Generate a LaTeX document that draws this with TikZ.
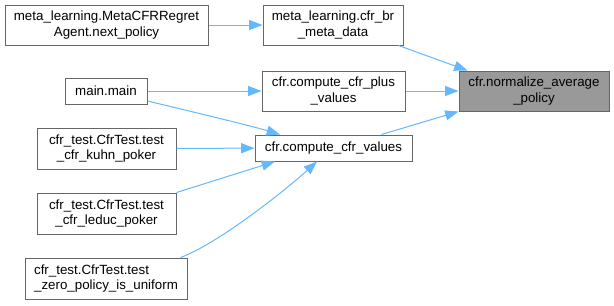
\documentclass[tikz,border=0pt]{standalone}
\usepackage{fontspec}
\setmainfont{Liberation Sans}
\usetikzlibrary{arrows.meta,calc}
\definecolor{edgeblue}{HTML}{63B8FF}
\definecolor{boxgray}{HTML}{666666}
\definecolor{hlgray}{HTML}{999999}

\begin{document}
\begin{tikzpicture}[x=0.75pt,y=-0.75pt,
  fn/.style={draw=boxgray,line width=0.75pt,fill=white,inner sep=0pt,align=center,
    font=\fontsize{10}{11.5}\selectfont},
  edge/.style={draw=edgeblue,line width=0.75pt,-{Triangle[length=10pt,width=7.5pt]}}]
\useasboundingbox (0,0) rectangle (614,305);

% 被调用的函数
\node (norm) at (534,91) [fn,fill=hlgray,minimum width=112.5pt,minimum height=30pt]{cfr.normalize\_average\\\_policy};

% 第二列
\node (brmeta) at (333,25) [fn,minimum width=105pt,minimum height=30pt]{meta\_learning.cfr\_br\\\_meta\_data};
\node (plus) at (333.5,91) [fn,minimum width=107.25pt,minimum height=30pt]{cfr.compute\_cfr\_plus\\\_values};
\node (values) at (333.5,148) [fn,minimum width=117.75pt,minimum height=19.5pt]{cfr.compute\_cfr\_values};

% 第一列
\node (meta) at (106.5,25) [fn,minimum width=152.25pt,minimum height=30pt]{meta\_learning.MetaCFRRegret\\Agent.next\_policy};
\node (mainmain) at (106,91) [fn,minimum width=61.5pt,minimum height=19.5pt]{main.main};
\node (kuhn) at (106.5,148.5) [fn,minimum width=104.25pt,minimum height=30.75pt]{cfr\_test.CfrTest.test\\\_cfr\_kuhn\_poker};
\node (leduc) at (106.5,213.5) [fn,minimum width=104.25pt,minimum height=30.75pt]{cfr\_test.CfrTest.test\\\_cfr\_leduc\_poker};
\node (zero) at (106,278.5) [fn,align=left,minimum width=121.5pt,minimum height=30.75pt]{cfr\_test.CfrTest.test\\\_zero\_policy\_is\_uniform};

% 调用关系
\draw[edge] (meta) -- (brmeta);
\draw[edge] ($(brmeta.south east)+(-5,0)$) -- ($(norm.north west)+(9,0)$);
\draw[edge] (plus) -- (norm);
\draw[edge] ($(values.north)+(48,0)$) -- (norm.south west);
\draw[edge] (mainmain) -- (plus);
\draw[edge] ($(mainmain.east)+(0,10)$) .. controls (187,110.5) and (250,125.5) .. ($(values.north)+(-53.5,0)$);
\draw[edge] (kuhn) -- (values);
\draw[edge] (leduc.north east) -- ($(values.south)+(-58.5,0)$);
\draw[edge] ($(zero.north east)+(-7,0)$) .. controls (215,245) and (280,195) .. ($(values.south)+(-16.5,0)$);
\end{tikzpicture}
\end{document}
